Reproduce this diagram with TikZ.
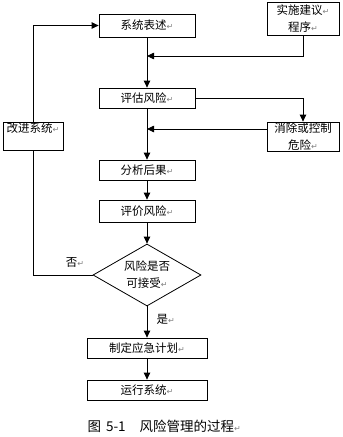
\documentclass[tikz,border=0pt]{standalone}
\usepackage{fontspec}
\setmainfont{Noto Sans CJK SC}
\newfontfamily\symfont{DejaVu Sans}
\usetikzlibrary{arrows.meta}
\usetikzlibrary{shapes.geometric}

% paragraph mark as printed after each text
\newcommand{\pmark}{{\symfont\color{gray}\fontsize{8}{8}\selectfont ↵}}

\tikzset{
	box/.style={draw, line width=0.8pt, inner sep=0pt, align=center,
		font=\fontsize{11.5}{17}\selectfont},
	arr/.style={line width=0.8pt, -{Triangle[width=6.5pt,length=7pt]}},
	lbl/.style={font=\fontsize{11.5}{17}\selectfont}
}

\begin{document}
\begin{tikzpicture}[x=1pt,y=-1pt]
	\useasboundingbox (0,0) rectangle (343,437);
	
	\node[box, minimum width=96pt, minimum height=23pt] (desc) at (147,25.5) {系统表述\pmark};
	\node[box, minimum width=72pt, minimum height=33pt] (impl) at (303,18.5) {实施建议\pmark\\程序\pmark};
	\node[box, minimum width=96pt, minimum height=20pt] (assess) at (147,98) {评估风险\pmark};
	\node[box, minimum width=72pt, minimum height=29pt] (elim) at (303,136.5) {消除或控制\\危险\pmark};
	\node[box, minimum width=60pt, minimum height=28pt, anchor=north] (improve) at (33,122) {改进系统\pmark\\\mbox{}};
	\node[box, minimum width=96pt, minimum height=20pt] (analyse) at (147,170) {分析后果\pmark};
	\node[box, minimum width=96pt, minimum height=22pt] (judge) at (147,211) {评价风险\pmark};
	\node[box, diamond, aspect=1.74, minimum width=108pt, minimum height=62pt] (accept) at (147,275) {风险是否\\可接受\pmark};
	\node[box, minimum width=120pt, minimum height=20pt] (plan) at (147,348) {制定应急计划\pmark};
	\node[box, minimum width=120pt, minimum height=20pt] (run) at (147,390) {运行系统\pmark};
	
	\coordinate (j1) at (147,56);
	\coordinate (j2) at (147,129);
	
	\draw[arr] (desc) -- (assess);
	\draw[arr] (impl.south) |- (j1);
	\draw[arr] (assess.east) -| (elim.north);
	\draw[arr] (elim.west |- j2) -- (j2);
	\draw[arr] (assess) -- (analyse);
	\draw[arr] (analyse) -- (judge);
	\draw[arr] (judge) -- (accept);
	\draw[arr] (improve.north) |- (desc.west);
	\draw[line width=0.8pt] (accept.west) -| (improve.south);
	\draw[arr] (accept.south) -- (plan) node[lbl, pos=0.4, right=6pt] (yes) {是\pmark};
	\draw[arr] (plan) -- (run);
	
	\node[lbl] (no) at (75,262) {否\pmark};
	
	\node[font=\fontsize{13.5}{16}\selectfont, anchor=west] (caption) at (84,426) {图\hspace{5pt}5-1\hspace{14pt}风险管理的过程\pmark};
\end{tikzpicture}
\end{document}
